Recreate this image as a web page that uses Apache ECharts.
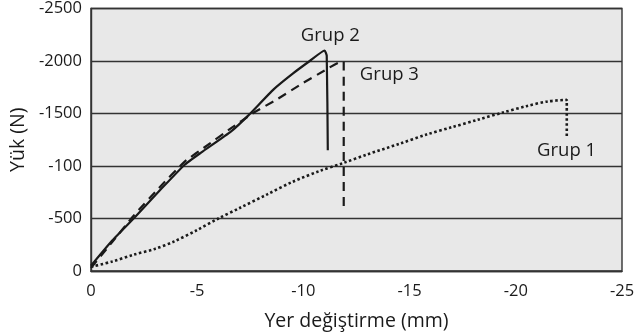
<!DOCTYPE html>
<html><head><meta charset="utf-8">
<script src="https://cdn.jsdelivr.net/npm/echarts@6/dist/echarts.min.js"></script>
<style>html,body{margin:0;padding:0;background:#fff}#c{width:644px;height:336px}</style>
</head><body><div id="c"></div>
<script>
// Data (displacement mm, load N)
const grup1 = [[0,-40],[-1,-90],[-2,-155],[-3,-210],[-3.9,-280],[-5,-390],[-6,-500],[-7,-600],[-8.3,-730],[-9.5,-850],[-10.8,-955],[-11.9,-1030],[-13,-1110],[-14.5,-1210],[-15.8,-1300],[-17,-1370],[-18.2,-1440],[-19.4,-1510],[-20.5,-1570],[-21.5,-1615],[-22.4,-1630],[-22.4,-1265]];
const grup2 = [[0,-50],[-1,-290],[-2.1,-520],[-3.3,-780],[-4.4,-1010],[-5.2,-1130],[-6.6,-1330],[-7.4,-1480],[-8.6,-1730],[-9.5,-1880],[-10.3,-2000],[-11.0,-2100],[-11.1,-2050],[-11.15,-1150]];
const grup3 = [[0,-30],[-1,-275],[-2,-525],[-3.2,-790],[-4.4,-1040],[-5.5,-1200],[-6.6,-1360],[-7.6,-1500],[-8.8,-1640],[-9.9,-1780],[-11.0,-1910],[-11.75,-1990],[-11.9,-1990],[-11.9,-600]];
const xTicks = [0,-5,-10,-15,-20,-25];
const yTickValues = [0,-500,-1000,-1500,-2000,-2500];
const yTickLabels = ['0','-500','-100','-1500','-2000','-2500'];
const seriesNames = ['Grup 1','Grup 2','Grup 3'];
const labelPos = [[-22.39,-1150],[-11.27,-2240],[-14.05,-1865]];

const font = 'Open Sans';
const chart = echarts.init(document.getElementById('c'));
function lbl(i){
  return {symbol:'circle',symbolSize:0,silent:true,
    data:[{coord:labelPos[i],value:seriesNames[i]}],
    label:{show:true,position:'inside',formatter:seriesNames[i],color:'#1a1a1a',fontFamily:font,fontSize:18.5}};
}
chart.setOption({
  animation:false,
  grid:{left:90,right:22,top:8.5,bottom:64.5,show:true,backgroundColor:'#e8e8e8',borderColor:'#333',borderWidth:1.4},
  xAxis:{type:'value',min:-25,max:0,interval:5,inverse:true,
    name:'Yer değiştirme (mm)',nameLocation:'middle',nameGap:40,
    nameTextStyle:{fontFamily:font,fontSize:19.5,color:'#1a1a1a'},
    axisLine:{show:true,lineStyle:{color:'#333',width:1.4}},axisTick:{show:false},splitLine:{show:false},
    axisLabel:{fontFamily:font,fontSize:16.5,color:'#1a1a1a',margin:12,formatter:v=>xTicks.includes(v)?String(v):''}},
  yAxis:{type:'value',min:-2500,max:0,interval:500,inverse:true,
    name:'Yük (N)',nameLocation:'middle',nameGap:53,nameRotate:90,
    nameTextStyle:{fontFamily:font,fontSize:19.5,color:'#1a1a1a'},
    axisLine:{show:true,lineStyle:{color:'#333',width:1.4}},axisTick:{show:false},
    splitLine:{show:true,lineStyle:{color:'#333',width:1.4}},
    axisLabel:{fontFamily:font,fontSize:16.5,color:'#1a1a1a',margin:9,
      formatter:v=>{const i=yTickValues.indexOf(v);return i>=0?yTickLabels[i]:'';}}},
  series:[
    {name:seriesNames[0],type:'line',data:grup1,showSymbol:false,smooth:0.3,
     lineStyle:{color:'#1a1a1a',width:2.6,type:[2.5,2.5],cap:'butt'},markPoint:lbl(0)},
    {name:seriesNames[1],type:'line',data:grup2,showSymbol:false,smooth:0.15,
     lineStyle:{color:'#1a1a1a',width:2.2},markPoint:lbl(1)},
    {name:seriesNames[2],type:'line',data:grup3,showSymbol:false,smooth:0.15,
     lineStyle:{color:'#1a1a1a',width:2.2,type:[9,6],cap:'butt'},markPoint:lbl(2)}
  ]
});
</script></body></html>
